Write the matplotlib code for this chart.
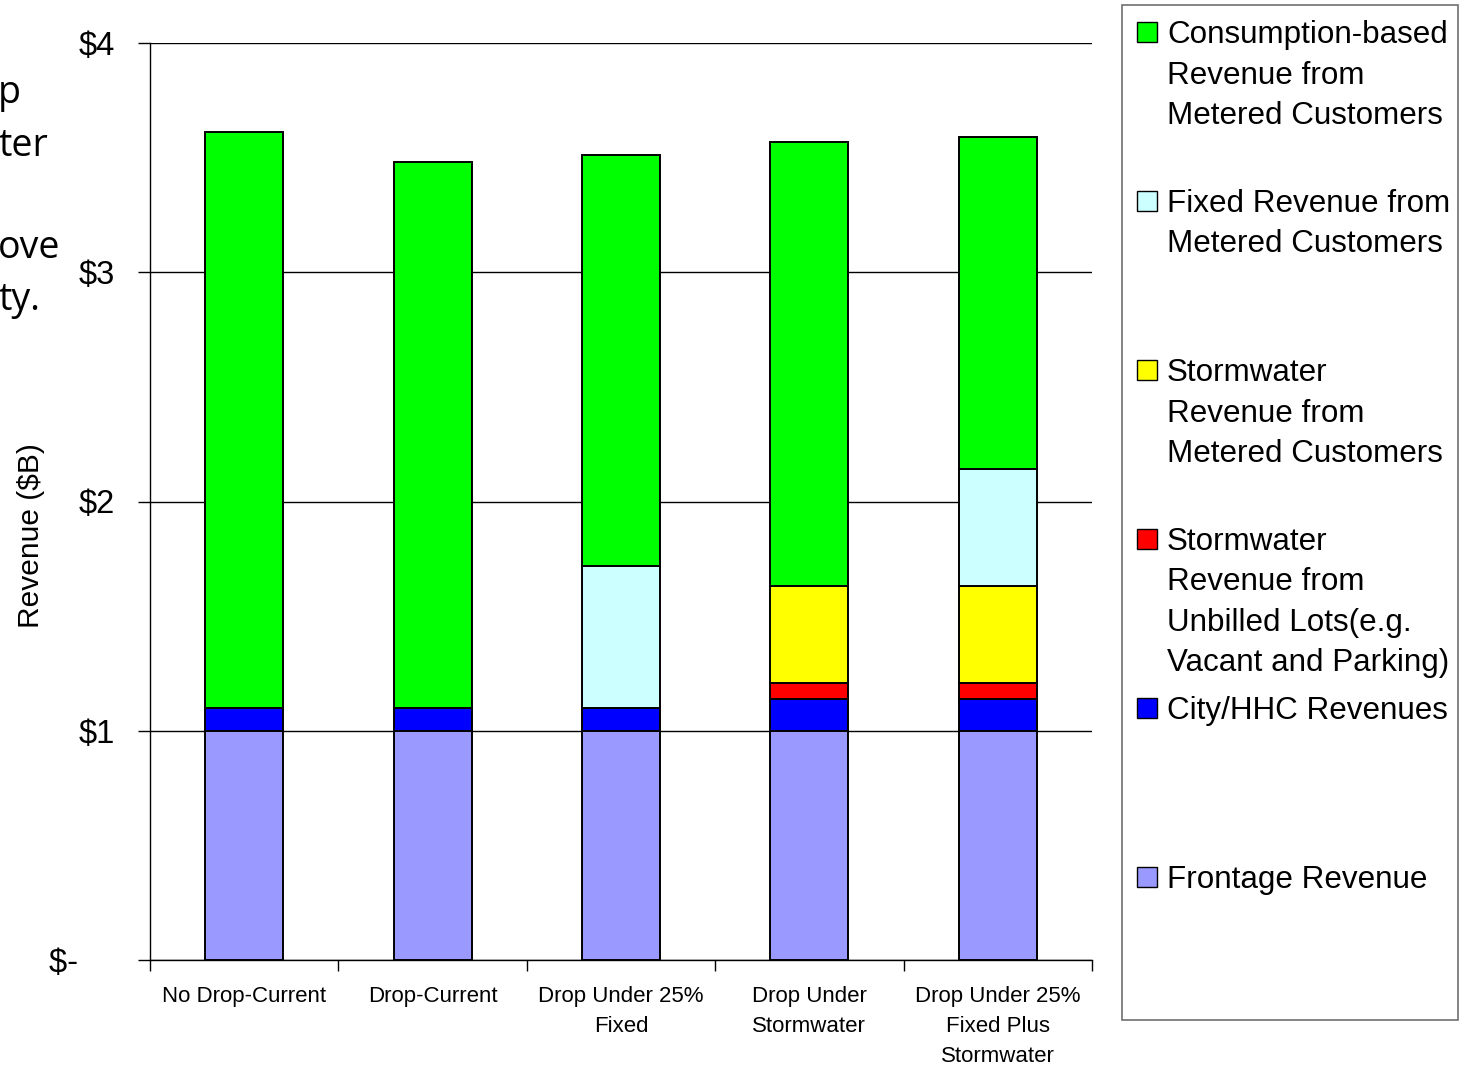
import numpy as np
import matplotlib
matplotlib.use("Agg")
import matplotlib.pyplot as plt
from matplotlib.patches import Rectangle

plt.rcParams['font.family'] = ['Liberation Sans', 'DejaVu Sans']

# scenarios along the x axis
scenarios = ["No Drop-Current", "Drop-Current", "Drop Under 25%\nFixed",
             "Drop Under\nStormwater", "Drop Under 25%\nFixed Plus\nStormwater"]

# revenue components, $ billions (stacked bottom to top)
frontage = [1.00, 1.00, 1.00, 1.00, 1.00]
city_hhc = [0.10, 0.10, 0.10, 0.14, 0.14]
storm_unbilled = [0.00, 0.00, 0.00, 0.07, 0.07]
storm_metered = [0.00, 0.00, 0.00, 0.42, 0.42]
fixed_metered = [0.00, 0.00, 0.62, 0.00, 0.51]
consumption = [2.51, 2.38, 1.79, 1.94, 1.45]

series = [frontage, city_hhc, storm_unbilled, storm_metered, fixed_metered, consumption]
colors = ["#9999FF", "#0000FF", "#FF0000", "#FFFF00", "#CCFFFF", "#00FF00"]

legend_labels = [
    "Consumption-based\nRevenue from\nMetered Customers",
    "Fixed Revenue from\nMetered Customers",
    "Stormwater\nRevenue from\nMetered Customers",
    "Stormwater\nRevenue from\nUnbilled Lots(e.g.\nVacant and Parking)",
    "City/HHC Revenues",
    "Frontage Revenue",
]
legend_colors = ["#00FF00", "#CCFFFF", "#FFFF00", "#FF0000", "#0000FF", "#9999FF"]

yticks = [0, 1, 2, 3, 4]
# accounting style: the zero label sits further left
ytick_labels = ["$-    ", "$1", "$2", "$3", "$4"]

W, H = 1465, 1068
fig = plt.figure(figsize=(W / 100, H / 100), dpi=100)
ax = fig.add_axes([150 / W, 1 - 960 / H, 942 / W, 917 / H])

x = np.arange(len(scenarios))
bottom = np.zeros(len(scenarios))
for vals, c in zip(series, colors):
    v = np.array(vals)
    mask = v > 0
    ax.bar(x[mask], v[mask], width=0.415, bottom=bottom[mask], color=c,
           edgecolor="black", linewidth=1.4, zorder=3)
    bottom += v

ax.set_xlim(-0.5, len(scenarios) - 0.5)
ax.set_ylim(0, 4)
ax.set_yticks(yticks)
ax.set_yticklabels(ytick_labels, fontsize=23.5)
ax.yaxis.grid(True, color="black", linewidth=1.0, zorder=0)
ax.tick_params(axis="y", length=9, width=1, pad=16.3)

# boundary ticks between categories, labels centred under bars
ax.set_xticks(np.arange(-0.5, len(scenarios)), labels=[""] * (len(scenarios) + 1))
ax.tick_params(axis="x", which="major", length=8, width=1, direction="out")
ax.set_xticks(x, labels=scenarios, minor=True)
ax.tick_params(axis="x", which="minor", length=0, pad=19, labelsize=16)
for lbl in ax.get_xticklabels(minor=True):
    lbl.set_linespacing(1.55)

for side in ["top", "right"]:
    ax.spines[side].set_visible(False)
ax.spines["left"].set_linewidth(1.0)
ax.spines["bottom"].set_linewidth(1.0)

ax.set_ylabel("Revenue ($B)", fontsize=21.5)
ax.yaxis.set_label_coords(-105 / 942, (960 - 536) / 917)

# legend panel
def fx(px):
    return px / W

def fy(py):
    return 1 - py / H

fig.patches.append(Rectangle((fx(1122), fy(1020)), fx(1458) - fx(1122), fy(5) - fy(1020),
                             transform=fig.transFigure, facecolor="white",
                             edgecolor="#707070", linewidth=1.2))
for i, (lab, c) in enumerate(zip(legend_labels, legend_colors)):
    top = 22 + 169 * i
    fig.patches.append(Rectangle((fx(1137), fy(top + 20)), fx(20), 20 / H,
                                 transform=fig.transFigure, facecolor=c,
                                 edgecolor="black", linewidth=1.0))
    for j, line in enumerate(lab.split("\n")):
        fig.text(fx(1167), fy(43 + 169 * i + 40.5 * j), line, fontsize=22.6,
                 va="baseline", ha="left")

# fragments of adjoining slide text on the left edge
for txt, base in [("p", 103), ("ter", 156), ("ove", 258), ("ty.", 310)]:
    fig.text(fx(-2), fy(base), txt, fontsize=27, va="baseline", ha="left",
             family=["Open Sans", "DejaVu Sans"])

fig.savefig("out.png", dpi=100)
